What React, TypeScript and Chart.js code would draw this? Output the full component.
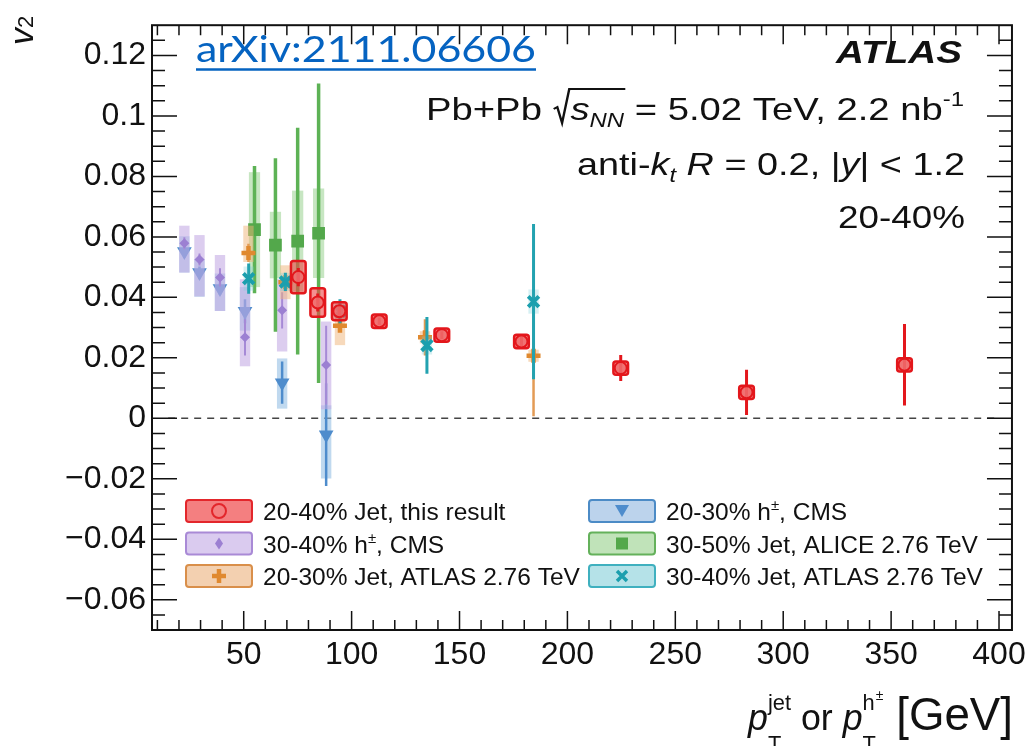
import React, { useEffect, useRef } from 'react';
import { Chart, registerables } from 'chart.js';

Chart.register(...registerables);

// ---------- axes ----------
const X_MIN = 7.5;
const X_MAX = 406;
const Y_MIN = -0.07;
const Y_MAX = 0.13;
const xTickValues = [50, 100, 150, 200, 250, 300, 350, 400];
const xTickLabels = ['50', '100', '150', '200', '250', '300', '350', '400'];
const yTickValues = [-0.06, -0.04, -0.02, 0, 0.02, 0.04, 0.06, 0.08, 0.1, 0.12];
const yTickLabels = ['\u22120.06', '\u22120.04', '\u22120.02', '0', '0.02', '0.04', '0.06', '0.08', '0.1', '0.12'];
const zeroLineX = [15, 400];

// ---------- 20-40% Jet, this result ----------
const jetPt = [75.3, 84.3, 94.3, 112.8, 141.8, 178.7, 224.7, 283.0, 356.2];
const jetV2 = [0.0467, 0.0383, 0.0354, 0.0321, 0.0275, 0.0254, 0.0166, 0.0086, 0.0177];
const jetStat = [0.003, 0.003, 0.002, 0.0012, 0.0013, 0.0015, 0.0043, 0.0075, 0.0135];
const jetSys = [0.0053, 0.0047, 0.003, 0.0022, 0.0022, 0.0022, 0.0022, 0.0022, 0.0022];

// ---------- 30-40% h±, CMS ----------
const cms3040Pt = [22.5, 29.5, 39.0, 50.6, 67.8, 88.2];
const cms3040V2 = [0.0579, 0.0525, 0.0466, 0.0268, 0.0357, 0.0176];
const cms3040Stat = [0.002, 0.002, 0.003, 0.006, 0.006, 0.013];
const cms3040SysUp = [0.0058, 0.0081, 0.0074, 0.0192, 0.0103, 0.0144];
const cms3040SysDown = [0.0097, 0.0122, 0.0111, 0.0096, 0.0136, 0.0146];

// ---------- 20-30% h±, CMS ----------
const cms2030Pt = [22.5, 29.5, 39.0, 50.6, 67.8, 88.2];
const cms2030V2 = [0.0552, 0.0482, 0.0429, 0.0354, 0.0118, -0.0054];
const cms2030Stat = [0.002, 0.002, 0.002, 0.004, 0.007, 0.017];
const cms2030SysUp = [0.005, 0.0045, 0.005, 0.008, 0.008, 0.0097];
const cms2030SysDown = [0.007, 0.008, 0.0074, 0.0064, 0.0086, 0.0145];

// ---------- 30-50% Jet, ALICE 2.76 TeV ----------
const alicePt = [55.0, 64.7, 75.0, 84.7];
const aliceV2 = [0.0624, 0.0573, 0.0586, 0.0612];
const aliceStat = [0.021, 0.0287, 0.0375, 0.0495];
const aliceSys = [0.019, 0.011, 0.0167, 0.0148];

// ---------- 20-30% Jet, ATLAS 2.76 TeV ----------
const atlas2030Pt = [52.2, 69.3, 94.6, 134.0, 184.3];
const atlas2030V2 = [0.0547, 0.045, 0.0306, 0.0268, 0.0207];
const atlas2030Stat = [0.003, 0.003, 0.002, 0.006, 0.02];
const atlas2030SysUp = [0.009, 0.0056, 0.004, 0.002, 0.002];
const atlas2030SysDown = [0.003, 0.0056, 0.0064, 0.002, 0.002];

// ---------- 30-40% Jet, ATLAS 2.76 TeV ----------
const atlas3040Pt = [52.3, 69.3, 94.6, 134.9, 184.3];
const atlas3040V2 = [0.0462, 0.0451, 0.0354, 0.0241, 0.0386];
const atlas3040Stat = [0.005, 0.003, 0.004, 0.0094, 0.0257];
const atlas3040Sys = [0.004, 0.003, 0.003, 0.003, 0.004];

const FONT = '"Liberation Sans", Arial, Helvetica, sans-serif';
const F = (size: number, style = '') => `${style} ${size}px ${FONT}`.trim();

type Style = {
  pointStyle: string;
  radius: number;
  rotation: number;
  borderWidth: number;
  pointFill: string;
  pointStroke: string;
  barColor: string;
  barWidth: number;
  bandFill: string;
  bandStroke?: string;
  bandStrokeWidth?: number;
  halfWidth: number;
  legendFill: string;
  legendStroke: string;
  legendMarker: string;
};

type Series = {
  label: string;
  pt: number[];
  v2: number[];
  statUp: number[];
  statDown: number[];
  sysUp: number[];
  sysDown: number[];
  style: Style;
};

const red: Series = {
  label: '20-40% Jet, this result',
  pt: jetPt, v2: jetV2, statUp: jetStat, statDown: jetStat, sysUp: jetSys, sysDown: jetSys,
  style: {
    pointStyle: 'circle', radius: 6, rotation: 0, borderWidth: 2,
    pointFill: 'rgba(240,110,110,0.85)', pointStroke: '#e3171c',
    barColor: '#e3171c', barWidth: 3,
    bandFill: 'rgba(238,70,70,0.6)', bandStroke: '#e3171c', bandStrokeWidth: 2.5, halfWidth: 3.4,
    legendFill: '#f47f80', legendStroke: '#e3262b', legendMarker: 'openCircle',
  },
};
const purple: Series = {
  label: '30-40% h±, CMS',
  pt: cms3040Pt, v2: cms3040V2, statUp: cms3040Stat, statDown: cms3040Stat, sysUp: cms3040SysUp, sysDown: cms3040SysDown,
  style: {
    pointStyle: 'rectRot', radius: 5, rotation: 0, borderWidth: 0,
    pointFill: '#9c80d2', pointStroke: '#9c80d2',
    barColor: '#a68ad6', barWidth: 2,
    bandFill: 'rgba(196,172,228,0.6)', halfWidth: 2.4,
    legendFill: '#dacbef', legendStroke: '#a98ad6', legendMarker: 'diamond',
  },
};
const orange: Series = {
  label: '20-30% Jet, ATLAS 2.76 TeV',
  pt: atlas2030Pt, v2: atlas2030V2, statUp: atlas2030Stat, statDown: atlas2030Stat, sysUp: atlas2030SysUp, sysDown: atlas2030SysDown,
  style: {
    pointStyle: 'cross', radius: 7, rotation: 0, borderWidth: 4.5,
    pointFill: '#e0892f', pointStroke: '#e0892f',
    barColor: '#e39b55', barWidth: 2.5,
    bandFill: 'rgba(240,180,120,0.5)', halfWidth: 2.4,
    legendFill: '#f3d0b0', legendStroke: '#d98f4a', legendMarker: 'plus',
  },
};
const blue: Series = {
  label: '20-30% h±, CMS',
  pt: cms2030Pt, v2: cms2030V2, statUp: cms2030Stat, statDown: cms2030Stat, sysUp: cms2030SysUp, sysDown: cms2030SysDown,
  style: {
    pointStyle: 'triangle', radius: 8.5, rotation: 180, borderWidth: 0,
    pointFill: '#4e8ccc', pointStroke: '#4e8ccc',
    barColor: '#4e8ccc', barWidth: 2.5,
    bandFill: 'rgba(140,185,225,0.55)', halfWidth: 2.4,
    legendFill: '#bcd3ec', legendStroke: '#4c8bc6', legendMarker: 'triDown',
  },
};
const green: Series = {
  label: '30-50% Jet, ALICE 2.76 TeV',
  pt: alicePt, v2: aliceV2, statUp: aliceStat, statDown: aliceStat, sysUp: aliceSys, sysDown: aliceSys,
  style: {
    pointStyle: 'rect', radius: 9, rotation: 0, borderWidth: 0,
    pointFill: '#53a84b', pointStroke: '#53a84b',
    barColor: '#5db255', barWidth: 3.5,
    bandFill: 'rgba(130,200,120,0.45)', halfWidth: 2.6,
    legendFill: '#c0e3b9', legendStroke: '#64b15b', legendMarker: 'square',
  },
};
const teal: Series = {
  label: '30-40% Jet, ATLAS 2.76 TeV',
  pt: atlas3040Pt, v2: atlas3040V2, statUp: atlas3040Stat, statDown: atlas3040Stat, sysUp: atlas3040Sys, sysDown: atlas3040Sys,
  style: {
    pointStyle: 'crossRot', radius: 7.5, rotation: 0, borderWidth: 4,
    pointFill: '#1b9fae', pointStroke: '#1b9fae',
    barColor: '#23a2b0', barWidth: 3,
    bandFill: 'rgba(120,205,215,0.3)', halfWidth: 2.4,
    legendFill: '#b5e2e8', legendStroke: '#3fb0bf', legendMarker: 'x',
  },
};

// dataset order: index 0 drawn last (on top)
const drawSeries: Series[] = [red, teal, orange, green, purple, blue];
const legendSeries: Series[] = [red, purple, orange, blue, green, teal];

type Run = { t: string; font: string; dy?: number; overlay?: boolean; radical?: number; w?: number };

function drawRich(ctx: CanvasRenderingContext2D, runs: Run[], x: number, y: number, align: 'left' | 'right', targetW?: number, color = '#111') {
  const placed: { r: Run; x: number; w: number }[] = [];
  let pos = 0;
  let lastStart = 0;
  for (const r of runs) {
    if (r.radical !== undefined) {
      const w = r.w || 15;
      placed.push({ r, x: pos, w });
      pos += w;
      lastStart = pos;
      continue;
    }
    ctx.font = r.font;
    const w = ctx.measureText(r.t).width;
    if (r.overlay) {
      placed.push({ r, x: lastStart, w });
      pos = Math.max(pos, lastStart + w);
    } else {
      placed.push({ r, x: pos, w });
      lastStart = pos;
      pos += w;
    }
  }
  const sx = targetW ? targetW / pos : 1;
  const x0 = align === 'right' ? x - pos * sx : x;
  ctx.save();
  ctx.translate(x0, y);
  ctx.scale(sx, 1);
  ctx.fillStyle = color;
  ctx.strokeStyle = color;
  ctx.textBaseline = 'alphabetic';
  ctx.textAlign = 'left';
  placed.forEach((p, i) => {
    if (p.r.radical !== undefined) {
      const last = placed[i + p.r.radical];
      const endX = last.x + last.w;
      const top = -31;
      ctx.lineWidth = 2;
      ctx.beginPath();
      ctx.moveTo(p.x + 1, -11);
      ctx.lineTo(p.x + 4, -13);
      ctx.lineTo(p.x + 8, 3);
      ctx.lineTo(p.x + p.w - 1, top);
      ctx.lineTo(endX + 1, top);
      ctx.stroke();
      return;
    }
    ctx.font = p.r.font;
    ctx.fillText(p.r.t, p.x, p.r.dy || 0);
  });
  ctx.restore();
  return pos * sx;
}

function drawLegendMarker(ctx: CanvasRenderingContext2D, s: Style, x: number, y: number) {
  ctx.save();
  ctx.fillStyle = s.pointFill;
  ctx.strokeStyle = s.legendMarker === 'openCircle' ? s.legendStroke : s.pointStroke;
  ctx.beginPath();
  switch (s.legendMarker) {
    case 'openCircle':
      ctx.lineWidth = 2;
      ctx.arc(x, y, 7, 0, Math.PI * 2);
      ctx.stroke();
      break;
    case 'diamond':
      ctx.moveTo(x, y - 6); ctx.lineTo(x + 4, y); ctx.lineTo(x, y + 6); ctx.lineTo(x - 4, y); ctx.closePath();
      ctx.fill();
      break;
    case 'plus':
      ctx.lineWidth = 4.5;
      ctx.moveTo(x - 7, y); ctx.lineTo(x + 7, y); ctx.moveTo(x, y - 7); ctx.lineTo(x, y + 7);
      ctx.stroke();
      break;
    case 'triDown':
      ctx.moveTo(x - 7, y - 6); ctx.lineTo(x + 7, y - 6); ctx.lineTo(x, y + 6); ctx.closePath();
      ctx.fill();
      break;
    case 'square':
      ctx.rect(x - 6, y - 6, 12, 12);
      ctx.fill();
      break;
    case 'x':
      ctx.lineWidth = 3.5;
      ctx.moveTo(x - 5, y - 5); ctx.lineTo(x + 5, y + 5); ctx.moveTo(x + 5, y - 5); ctx.lineTo(x - 5, y + 5);
      ctx.stroke();
      break;
  }
  ctx.restore();
}

function roundRect(ctx: CanvasRenderingContext2D, x: number, y: number, w: number, h: number, r: number) {
  ctx.beginPath();
  ctx.moveTo(x + r, y);
  ctx.lineTo(x + w - r, y);
  ctx.quadraticCurveTo(x + w, y, x + w, y + r);
  ctx.lineTo(x + w, y + h - r);
  ctx.quadraticCurveTo(x + w, y + h, x + w - r, y + h);
  ctx.lineTo(x + r, y + h);
  ctx.quadraticCurveTo(x, y + h, x, y + h - r);
  ctx.lineTo(x, y + r);
  ctx.quadraticCurveTo(x, y, x + r, y);
  ctx.closePath();
}

export default function App() {
  const canvasRef = useRef<HTMLCanvasElement | null>(null);

  useEffect(() => {
    document.body.style.margin = '0';
    document.body.style.overflow = 'hidden';
    const canvas = canvasRef.current;
    if (!canvas) return;

    const errorPlugin = {
      id: 'errorBands',
      beforeDatasetsDraw(chart: any) {
        const { ctx } = chart;
        const xs = chart.scales.x;
        const ys = chart.scales.y;
        ctx.save();
        ctx.strokeStyle = '#444';
        ctx.lineWidth = 1.5;
        ctx.setLineDash([7, 6]);
        ctx.beginPath();
        ctx.moveTo(xs.getPixelForValue(zeroLineX[0]), ys.getPixelForValue(0));
        ctx.lineTo(xs.getPixelForValue(zeroLineX[1]), ys.getPixelForValue(0));
        ctx.stroke();
        ctx.restore();
      },
      beforeDatasetDraw(chart: any, args: any) {
        const s = drawSeries[args.index];
        if (!s) return;
        const { ctx, chartArea } = chart;
        const xs = chart.scales.x;
        const ys = chart.scales.y;
        const st = s.style;
        ctx.save();
        ctx.beginPath();
        ctx.rect(chartArea.left, chartArea.top, chartArea.right - chartArea.left, chartArea.bottom - chartArea.top);
        ctx.clip();
        // systematic bands
        s.pt.forEach((x, i) => {
          const x0 = xs.getPixelForValue(x - st.halfWidth);
          const x1 = xs.getPixelForValue(x + st.halfWidth);
          const y0 = ys.getPixelForValue(s.v2[i] + s.sysUp[i]);
          const y1 = ys.getPixelForValue(s.v2[i] - s.sysDown[i]);
          ctx.fillStyle = st.bandFill;
          if (st.bandStroke) {
            roundRect(ctx, x0, y0, x1 - x0, y1 - y0, 2.5);
            ctx.fill();
            ctx.strokeStyle = st.bandStroke;
            ctx.lineWidth = st.bandStrokeWidth || 2;
            ctx.stroke();
          } else {
            ctx.fillRect(x0, y0, x1 - x0, y1 - y0);
          }
        });
        // statistical bars
        ctx.strokeStyle = st.barColor;
        ctx.lineWidth = st.barWidth;
        s.pt.forEach((x, i) => {
          const px = xs.getPixelForValue(x);
          ctx.beginPath();
          ctx.moveTo(px, ys.getPixelForValue(s.v2[i] + s.statUp[i]));
          ctx.lineTo(px, ys.getPixelForValue(s.v2[i] - s.statDown[i]));
          ctx.stroke();
        });
        ctx.restore();
      },
      afterDraw(chart: any) {
        const { ctx, chartArea } = chart;
        const xs = chart.scales.x;
        const ys = chart.scales.y;
        const { left, right, top, bottom } = chartArea;
        ctx.save();
        // frame
        ctx.strokeStyle = '#111';
        ctx.lineWidth = 2;
        ctx.strokeRect(left, top, right - left, bottom - top);
        // x ticks
        ctx.lineWidth = 1.5;
        for (let v = 10; v <= X_MAX; v += 10) {
          const px = xs.getPixelForValue(v);
          const len = v % 50 === 0 ? 19 : 10;
          ctx.beginPath();
          ctx.moveTo(px, bottom); ctx.lineTo(px, bottom - len);
          ctx.moveTo(px, top); ctx.lineTo(px, top + len);
          ctx.stroke();
        }
        // y ticks
        for (let k = -13; k <= 25; k++) {
          const py = ys.getPixelForValue(k * 0.005);
          const len = k % 4 === 0 ? 25 : 13;
          ctx.beginPath();
          ctx.moveTo(left, py); ctx.lineTo(left + len, py);
          ctx.moveTo(right, py); ctx.lineTo(right - len, py);
          ctx.stroke();
        }
        ctx.restore();

        // legend
        ctx.save();
        legendSeries.forEach((s, i) => {
          const col = Math.floor(i / 3);
          const row = i % 3;
          const bx = col === 0 ? 186 : 589;
          const cy = 511 + row * 32.5;
          roundRect(ctx, bx, cy - 11, 66, 22, 3);
          ctx.fillStyle = s.style.legendFill;
          ctx.fill();
          ctx.lineWidth = 2;
          ctx.strokeStyle = s.style.legendStroke;
          ctx.stroke();
          drawLegendMarker(ctx, s.style, bx + 33, cy);
          const parts = s.label.split('±');
          const runs: Run[] = [{ t: parts[0], font: F(24.5) }];
          if (parts.length > 1) {
            runs.push({ t: '±', font: F(15), dy: -10 });
            runs.push({ t: parts[1], font: F(24.5) });
          }
          drawRich(ctx, runs, bx + 77, cy + 9, 'left');
        });
        ctx.restore();

        // annotations
        const arxivW = drawRich(ctx, [{ t: 'arXiv:2111.06606', font: '36px Lato, "Open Sans", sans-serif' }], 196, 62, 'left', 340, '#0563c1');
        ctx.save();
        ctx.strokeStyle = '#0563c1';
        ctx.lineWidth = 2.5;
        ctx.beginPath();
        ctx.moveTo(196, 69.5);
        ctx.lineTo(196 + arxivW, 69.5);
        ctx.stroke();
        ctx.restore();

        drawRich(ctx, [{ t: 'ATLAS', font: F(32, 'italic bold') }], 962, 63, 'right', 126);
        drawRich(ctx, [
          { t: 'Pb+Pb ', font: F(32) },
          { t: '', font: '', radical: 2, w: 15 },
          { t: 's', font: F(32, 'italic') },
          { t: 'NN', font: F(20, 'italic'), dy: 7 },
          { t: ' = 5.02 TeV, 2.2 nb', font: F(32) },
          { t: '-1', font: F(20), dy: -14 },
        ], 964, 120, 'right', 538);
        drawRich(ctx, [
          { t: 'anti-', font: F(32) },
          { t: 'k', font: F(32, 'italic') },
          { t: 't', font: F(20, 'italic'), dy: 7 },
          { t: ' ', font: F(32) },
          { t: 'R', font: F(32, 'italic') },
          { t: ' = 0.2, |', font: F(32) },
          { t: 'y', font: F(32, 'italic') },
          { t: '| < 1.2', font: F(32) },
        ], 965, 175, 'right', 388);
        drawRich(ctx, [{ t: '20-40%', font: F(32) }], 965, 228, 'right', 127);

        // x title
        drawRich(ctx, [
          { t: 'p', font: F(36, 'italic') },
          { t: 'jet', font: F(22), dy: -20 },
          { t: 'T', font: F(22), dy: 21, overlay: true },
          { t: ' or ', font: F(36) },
          { t: 'p', font: F(36, 'italic') },
          { t: 'h', font: F(22), dy: -20 },
          { t: 'T', font: F(22), dy: 21, overlay: true },
          { t: '±', font: F(14), dy: -30 },
          { t: ' [GeV]', font: F(46) },
        ], 1013, 730, 'right', 265);

        // y title
        ctx.save();
        ctx.translate(33, 45);
        ctx.rotate(-Math.PI / 2);
        drawRich(ctx, [
          { t: 'v', font: F(34, 'italic') },
          { t: '2', font: F(22), dy: 0 },
        ], 0, 0, 'left');
        ctx.restore();
      },
    };

    const datasets = drawSeries.map((s) => ({
      label: s.label,
      data: s.pt.map((x, i) => ({ x, y: s.v2[i] })),
      pointStyle: s.style.pointStyle as any,
      pointRadius: s.style.radius,
      pointRotation: s.style.rotation,
      pointBorderWidth: s.style.borderWidth,
      pointBackgroundColor: s.style.pointFill,
      pointBorderColor: s.style.pointStroke,
      showLine: false,
    }));

    const chart = new Chart(canvas, {
      type: 'scatter',
      data: { datasets },
      options: {
        responsive: false,
        animation: false,
        events: [],
        layout: { padding: { top: 10, right: 19, left: 0, bottom: 0 } },
        plugins: { legend: { display: false }, tooltip: { enabled: false } },
        scales: {
          x: {
            type: 'linear',
            min: X_MIN,
            max: X_MAX,
            grid: { display: false, drawTicks: false },
            border: { display: false },
            afterBuildTicks: (scale: any) => {
              scale.ticks = xTickValues.map((v) => ({ value: v }));
            },
            afterFit: (scale: any) => {
              scale.height = 116;
            },
            ticks: {
              padding: 6,
              color: '#111',
              font: { family: FONT, size: 32 },
              maxRotation: 0,
              autoSkip: false,
              callback: (_v: any, i: number) => xTickLabels[i],
            },
          },
          y: {
            type: 'linear',
            min: Y_MIN,
            max: Y_MAX,
            grid: { display: false, drawTicks: false },
            border: { display: false },
            afterBuildTicks: (scale: any) => {
              scale.ticks = yTickValues.map((v) => ({ value: v }));
            },
            afterFit: (scale: any) => {
              scale.width = 152;
            },
            ticks: {
              padding: 6,
              color: '#111',
              font: { family: FONT, size: 32 },
              autoSkip: false,
              callback: (_v: any, i: number) => yTickLabels[i],
            },
          },
        },
      },
      plugins: [errorPlugin],
    });

    return () => {
      chart.destroy();
    };
  }, []);

  return (
    <div style={{ width: 1032, height: 746, position: 'relative', background: '#fff' }}>
      <canvas ref={canvasRef} width={1032} height={746} style={{ width: 1032, height: 746, display: 'block' }} />
    </div>
  );
}
